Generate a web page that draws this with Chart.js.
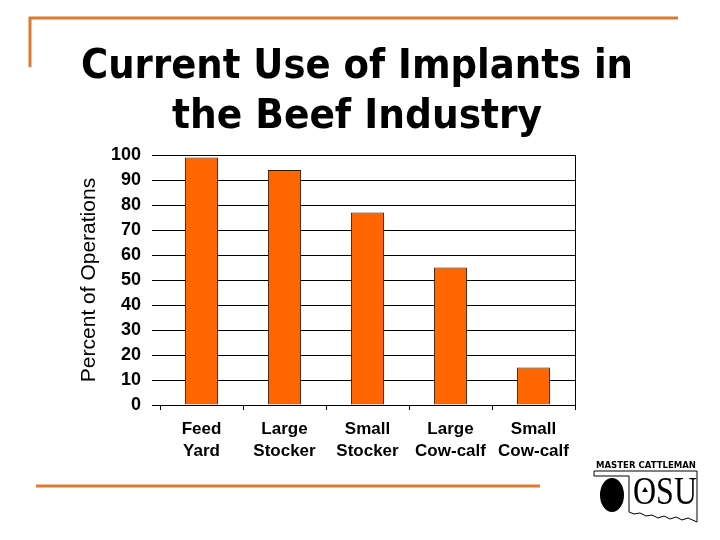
<!DOCTYPE html>
<html>
<head>
<meta charset="utf-8">
<script src="https://cdn.jsdelivr.net/npm/chart.js@4"></script>
<style>
  html, body { margin: 0; padding: 0; background: #fff; }
  canvas { display: block; }
</style>
</head>
<body>
<canvas id="chart" width="720" height="540"></canvas>
<script>
const titleLines = ["Current Use of Implants in", "the Beef Industry"];
const categories = [["Feed", "Yard"], ["Large", "Stocker"], ["Small", "Stocker"], ["Large", "Cow-calf"], ["Small", "Cow-calf"]];
const percentValues = [99, 94, 77, 55, 15];
const yAxisTitle = "Percent of Operations";

const orange = "#DB7B2F";

// slide decorations, title and logo
const slideDeco = {
  id: "slideDeco",
  beforeDraw(chart) {
    const ctx = chart.ctx;
    ctx.save();
    ctx.fillStyle = "#fff";
    ctx.fillRect(0, 0, chart.width, chart.height);
    ctx.restore();
  },
  afterDraw(chart) {
    const ctx = chart.ctx;
    const a = chart.chartArea;
    ctx.save();
    // right border of the plot
    ctx.strokeStyle = "#000";
    ctx.lineWidth = 1;
    ctx.beginPath();
    ctx.moveTo(Math.round(a.right) + 0.5, a.top);
    ctx.lineTo(Math.round(a.right) + 0.5, a.bottom);
    ctx.stroke();

    // orange rules
    ctx.strokeStyle = orange;
    ctx.lineWidth = 3;
    ctx.beginPath();
    ctx.moveTo(30, 67);
    ctx.lineTo(30, 18);
    ctx.lineTo(678, 18);
    ctx.moveTo(36, 486);
    ctx.lineTo(540, 486);
    ctx.stroke();

    // title
    ctx.fillStyle = "#000";
    ctx.textAlign = "center";
    ctx.textBaseline = "middle";
    ctx.font = "bold 40px 'DejaVu Sans'";
    ctx.fillText(titleLines[0], 357, 68, 552);
    ctx.fillText(titleLines[1], 357, 118, 370);

    // logo
    ctx.font = "bold 9px 'DejaVu Sans'";
    ctx.textAlign = "left";
    ctx.fillText("MASTER CATTLEMAN", 596, 466, 100);
    ctx.lineWidth = 1;
    ctx.strokeStyle = "#000";
    ctx.beginPath();
    ctx.moveTo(697, 471);
    ctx.lineTo(594, 471);
    ctx.lineTo(594, 476);
    ctx.lineTo(629, 476);
    ctx.lineTo(629, 512);
    const wave = [[634, 514], [640, 513], [646, 516], [652, 515], [658, 518], [664, 516], [670, 519], [676, 517], [682, 520], [688, 518], [697, 522]];
    wave.forEach(p => ctx.lineTo(p[0], p[1]));
    ctx.lineTo(697, 471);
    ctx.stroke();
    ctx.beginPath();
    ctx.ellipse(612, 495, 12, 17, 0, 0, Math.PI * 2);
    ctx.fill();
    ctx.font = "40px 'Liberation Serif'";
    ctx.textBaseline = "alphabetic";
    ctx.fillText("OSU", 633, 504, 64);
    ctx.beginPath();
    ctx.moveTo(642, 492);
    ctx.lineTo(645, 487);
    ctx.lineTo(648, 492);
    ctx.closePath();
    ctx.fill();
    ctx.restore();
  }
};

new Chart(document.getElementById("chart"), {
  type: "bar",
  data: {
    labels: categories,
    datasets: [
      {
        label: yAxisTitle,
        data: percentValues,
        backgroundColor: "#FF6600",
        borderColor: "#2b1400",
        borderWidth: 1,
        barPercentage: 0.4,
        categoryPercentage: 1,
      },
    ],
  },
  options: {
    responsive: false,
    animation: false,
    devicePixelRatio: 1,
    layout: { padding: { top: 155, right: 145, bottom: 75, left: 0 } },
    plugins: {
      legend: { display: false },
      tooltip: { enabled: false },
    },
    scales: {
      x: {
        grid: { offset: true, drawOnChartArea: false, drawTicks: true, tickLength: 5, color: "#000" },
        border: { display: true, color: "#000" },
        ticks: {
          color: "#000",
          padding: 9,
          maxRotation: 0,
          autoSkip: false,
          font: { family: "'Liberation Sans', Arial", size: 17, weight: "bold", lineHeight: 1.25 },
        },
        afterFit(scale) { scale.height = 60; },
      },
      y: {
        min: 0,
        max: 100,
        ticks: {
          stepSize: 10,
          color: "#000",
          padding: 11,
          font: { family: "'Liberation Sans', Arial", size: 18, weight: "bold" },
        },
        grid: { color: "#000", drawTicks: true, tickLength: 8 },
        border: { display: false },
        title: {
          display: true,
          text: yAxisTitle,
          color: "#000",
          padding: { top: 77, bottom: 0 },
          font: { family: "'Liberation Sans', Arial", size: 21, lineHeight: 1.2 },
        },
        afterFit(scale) { scale.width = 160; },
      },
    },
  },
  plugins: [slideDeco],
});
</script>
</body>
</html>
